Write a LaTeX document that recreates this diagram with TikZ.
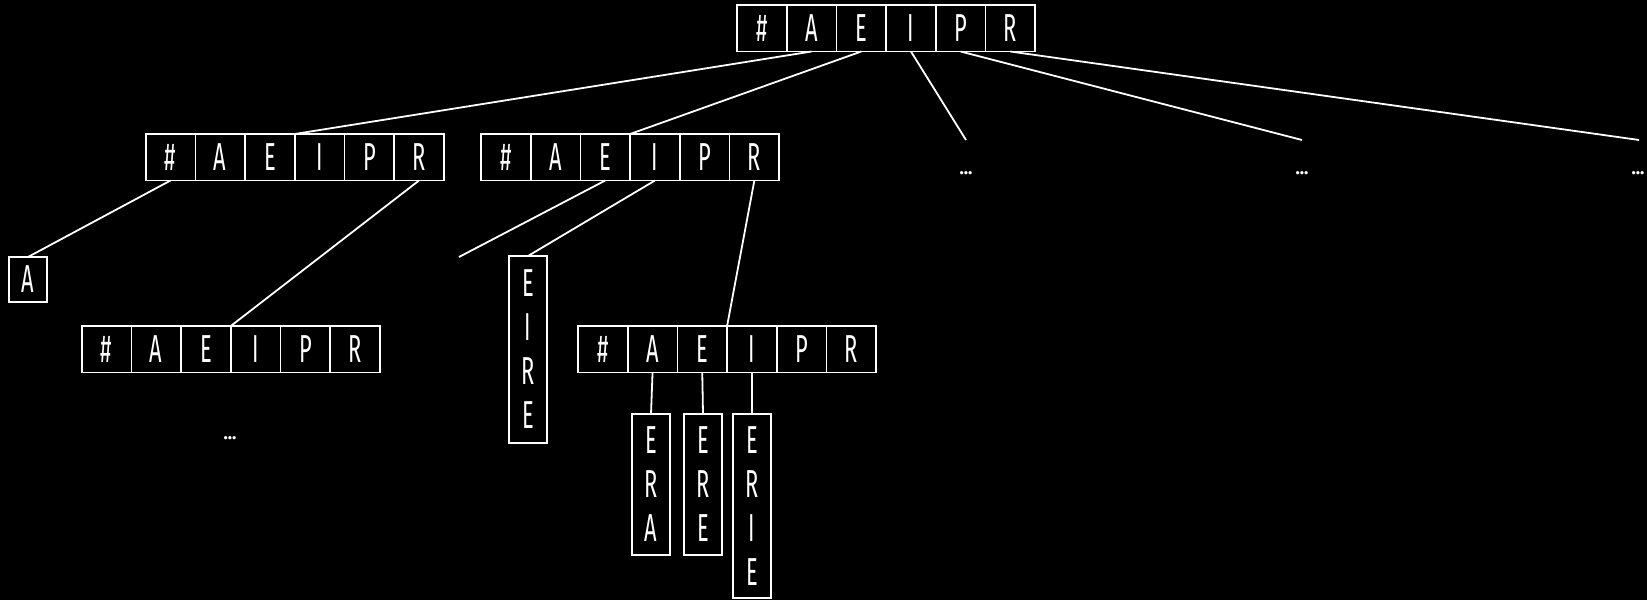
\documentclass[tikz,border=0pt]{standalone}
\usepackage{fontspec}
\setmainfont{Fira Sans}[FakeStretch=0.56]
\newfontfamily\dotfam{Fira Sans}
\newcommand\bigf{\fontsize{39}{44}\selectfont}
\newcommand\dotf{\dotfam\bfseries\fontsize{18}{18}\selectfont}
\tikzset{
  cell/.style={draw=white, line width=1.8pt, minimum width=49.7pt, minimum height=46.5pt,
    inner sep=0pt, outer sep=0pt, text=white, font=\bigf, anchor=north west,
    text height=27pt, text depth=0pt},
  vword/.style={draw=white, line width=1.8pt, minimum width=38pt, inner sep=0pt,
    outer sep=0pt, text=white, font=\bigf, align=center, anchor=north},
  link/.style={draw=white, line width=1.8pt},
  dots/.style={text=white, font=\dotf, inner sep=0pt}
}
\newcommand\trierow[3]{%
  \foreach \L [count=\i from 0] in {\#,A,E,I,P,R}{
    \node[cell] (#1-\i) at ({#2+\i*49.7},#3) {\L};
  }%
}
\begin{document}
\begin{tikzpicture}[x=1pt,y=-1pt]
\fill[black] (0,0) rectangle (1647,600);
\useasboundingbox (0,0) rectangle (1647,600);
\trierow{root}{737}{5}
\trierow{la}{145.7}{134}
\trierow{lb}{481}{134}
\trierow{ma}{81.7}{326}
\trierow{mb}{578}{326}
\node[vword, minimum height=45pt] (nA) at (28,257) {A};
\node[vword, minimum height=187pt] (eire) at (528,256) {E\\I\\R\\E};
\node[vword, minimum height=141pt] (era) at (651,414) {E\\R\\A};
\node[vword, minimum height=141pt] (ere) at (703,414) {E\\R\\E};
\node[vword, minimum height=184pt] (erie) at (752,414) {E\\R\\I\\E};
\coordinate (fI) at (966,140);
\coordinate (fP) at (1302,140);
\coordinate (fR) at (1639,140);
\coordinate (fE) at (459,257);
\node[dots] (dI) at (966,173) {...};
\node[dots] (dP) at (1302,173) {...};
\node[dots] (dR) at (1638,173) {...};
\node[dots] (dM) at (230,438) {...};
\draw[link] (root-1.south) -- (la-2.north east);
\draw[link] (root-2.south) -- (lb-2.north east);
\draw[link] (root-3.south) -- (fI);
\draw[link] (root-4.south) -- (fP);
\draw[link] (root-5.south) -- (fR);
\draw[link] (la-0.south) -- (nA.north);
\draw[link] (la-5.south) -- (ma-2.north east);
\draw[link] (lb-2.south) -- (fE);
\draw[link] (lb-3.south) -- (eire.north);
\draw[link] (lb-5.south) -- (mb-2.north east);
\draw[link] (mb-1.south) -- (era.north);
\draw[link] (mb-2.south) -- (ere.north);
\draw[link] (mb-3.south) -- (erie.north);
\end{tikzpicture}
\end{document}
